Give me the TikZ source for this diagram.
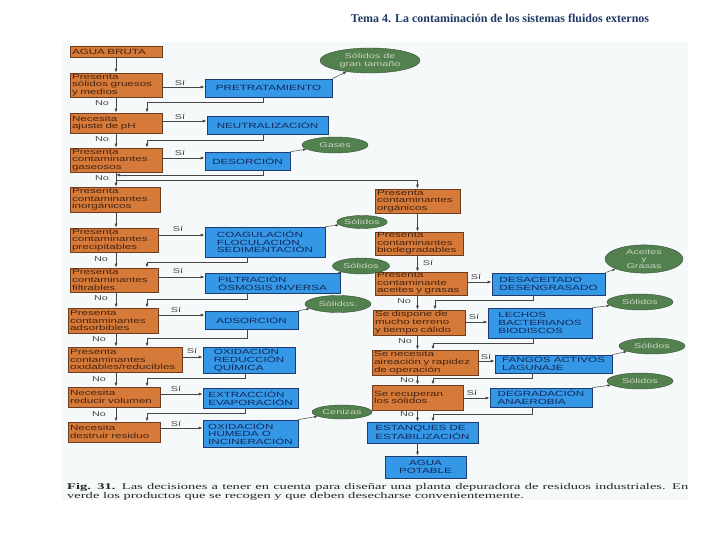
\documentclass[tikz,border=0pt]{standalone}
\usepackage{fontspec}
\setmainfont{Liberation Serif}
\newfontfamily\boxfont[FakeStretch=1.55]{Liberation Sans}
\newfontfamily\capfont[FakeStretch=1.65]{Liberation Serif}
\usetikzlibrary{shapes.geometric,arrows.meta}

\definecolor{boxorange}{RGB}{214,122,58}
\definecolor{orangeline}{RGB}{110,60,30}
\definecolor{orangetext}{RGB}{70,35,15}
\definecolor{boxblue}{RGB}{52,152,230}
\definecolor{blueline}{RGB}{30,60,110}
\definecolor{bluetext}{RGB}{20,40,90}
\definecolor{ellgreen}{RGB}{82,128,78}
\definecolor{greenline}{RGB}{50,80,50}
\definecolor{greentext}{RGB}{205,212,195}
\definecolor{flowgray}{RGB}{70,70,70}
\definecolor{scanbg}{RGB}{246,249,250}
\definecolor{titleblue}{RGB}{31,56,100}

\begin{document}
\begin{tikzpicture}[x=1pt,y=-1pt,
        chartbox/.style={draw, line width=0.7pt, inner ysep=0pt,
            font=\boxfont\fontsize{7.5}{7.6}\selectfont},
        orangebox/.style={chartbox, fill=boxorange, draw=orangeline,
            text=orangetext, inner xsep=2pt, align=left},
        bluebox/.style={chartbox, fill=boxblue, draw=blueline,
            text=bluetext, inner xsep=5pt, align=left},
        owh/.style 2 args={text width=#1, minimum height=#2},
        bwh/.style 2 args={minimum width=#1, minimum height=#2},
        product/.style={ellipse, draw=greenline, fill=ellgreen,
            text=greentext, inner sep=0pt, align=center,
            font=\boxfont\fontsize{7}{7.4}\selectfont},
        flowline/.style={draw=flowgray, line width=0.7pt,
            -{Latex[length=4pt,width=3pt]}},
        waste/.style={draw=flowgray, line width=0.5pt,
            -{Latex[length=3.5pt,width=2.5pt]}},
        answer/.style={font=\boxfont\fontsize{7}{7}\selectfont,
            text=flowgray, inner sep=0pt}]
    \useasboundingbox (0,0) rectangle (720,540);
    \fill[scanbg] (62,42) rectangle (688,500);

    \node[font=\bfseries\fontsize{12}{14}\selectfont, text=titleblue]
        (title) at (500,18) {Tema 4. La contaminación de los sistemas fluidos externos};

    % left column: questions
    \node[orangebox, owh={88pt}{11pt}] (agua) at (116,51.5) {AGUA BRUTA};
    \node[orangebox, owh={88pt}{24pt}] (gruesos) at (116,85) {Presenta\\sólidos gruesos\\y medios};
    \node[orangebox, owh={88pt}{20pt}] (ph) at (116,123) {Necesita\\ajuste de pH};
    \node[orangebox, owh={88pt}{24pt}] (gaseosos) at (116,160) {Presenta\\contaminantes\\gaseosos};
    \node[orangebox, owh={86pt}{25pt}] (inorganicos) at (115,199.5) {Presenta\\contaminantes\\inorgánicos};
    \node[orangebox, owh={84pt}{24pt}] (precipitables) at (114,240) {Presenta\\contaminantes\\precipitables};
    \node[orangebox, owh={84pt}{24pt}] (filtrables) at (114,280) {Presenta\\contaminantes\\filtrables};
    \node[orangebox, owh={86pt}{25pt}] (adsorbibles) at (113,320.5) {Presenta\\contaminantes\\adsorbibles};
    \node[orangebox, owh={110pt}{25pt}] (oxidables) at (125,359.5) {Presenta\\contaminantes\\oxidables/reducibles};
    \node[orangebox, owh={88pt}{20pt}] (volumen) at (114,397) {Necesita\\reducir volumen};
    \node[orangebox, owh={88pt}{20pt}] (destruir) at (114,432) {Necesita\\destruir residuo};

    % left column: treatments
    \node[bluebox, bwh={127pt}{18pt}] (pretrat) at (268.5,88) {PRETRATAMIENTO};
    \node[bluebox, bwh={121pt}{18pt}] (neutral) at (267.5,125) {NEUTRALIZACIÓN};
    \node[bluebox, bwh={85pt}{18pt}] (desorcion) at (247.5,161) {DESORCIÓN};
    \node[bluebox, bwh={120pt}{30pt}] (coagul) at (265,242) {COAGULACIÓN\\FLOCULACIÓN\\SEDIMENTACIÓN};
    \node[bluebox, bwh={135pt}{20pt}] (filtrac) at (272.5,283) {FILTRACIÓN\\ÓSMOSIS INVERSA};
    \node[bluebox, bwh={93pt}{18pt}] (adsorc) at (251.5,320) {ADSORCIÓN};
    \node[bluebox, bwh={92pt}{26pt}] (oxired) at (249,360) {OXIDACIÓN\\REDUCCIÓN\\QUÍMICA};
    \node[bluebox, bwh={95pt}{20pt}] (extrac) at (250.5,398) {EXTRACCIÓN\\EVAPORACIÓN};
    \node[bluebox, bwh={95pt}{27pt}] (incin) at (250.5,433.5) {OXIDACIÓN\\HÚMEDA O\\INCINERACIÓN};

    % right column
    \node[orangebox, owh={81pt}{24pt}] (organicos) at (417.5,201) {Presenta\\contaminantes\\orgánicos};
    \node[orangebox, owh={84pt}{23pt}] (biodegr) at (419,243.5) {Presenta\\contaminantes\\biodegradables};
    \node[orangebox, owh={88pt}{23pt}] (aceites) at (421,283.5) {Presenta\\contaminante\\aceites y grasas};
    \node[orangebox, owh={88pt}{25pt}] (terreno) at (419,322.5) {Se dispone de\\mucho terreno\\y tiempo cálido};
    \node[orangebox, owh={102pt}{25pt}] (aireacion) at (425,362.5) {Se necesita\\aireación y rapidez\\de operación};
    \node[orangebox, owh={87pt}{25pt}] (recuperan) at (417.5,397.5) {Se recuperan\\los sólidos};
    \node[bluebox, bwh={111pt}{21pt}] (estanques) at (422.5,432.5) {ESTANQUES DE\\ESTABILIZACIÓN};
    \node[bluebox, bwh={81pt}{22pt}, align=center] (potable) at (425.5,467) {AGUA\\POTABLE};

    \node[bluebox, bwh={113pt}{22pt}] (desaceit) at (548.5,284) {DESACEITADO\\DESENGRASADO};
    \node[bluebox, bwh={104pt}{30pt}] (lechos) at (540,323) {LECHOS\\BACTERIANOS\\BIODISCOS};
    \node[bluebox, bwh={117pt}{18pt}] (fangos) at (553.5,364) {FANGOS ACTIVOS\\LAGUNAJE};
    \node[bluebox, bwh={102pt}{19pt}] (degrad) at (541,397.5) {DEGRADACIÓN\\ANAEROBIA};

    % products to be removed
    \node[product, minimum width=100pt, minimum height=25pt] (egran) at (370,60.5) {Sólidos de\\gran tamaño};
    \node[product, minimum width=66pt, minimum height=16pt] (egases) at (335,145) {Gases};
    \node[product, minimum width=46pt, minimum height=13pt] (esol1) at (362,222) {Sólidos};
    \node[product, minimum width=57pt, minimum height=16pt] (esol2) at (361,266) {Sólidos};
    \node[product, minimum width=66pt, minimum height=17pt] (esol3) at (338,304) {Sólidos.};
    \node[product, minimum width=60pt, minimum height=14pt] (ecen) at (342,412) {Cenizas};
    \node[product, minimum width=78pt, minimum height=28pt] (eaceites) at (644,259) {Aceites\\y\\Grasas};
    \node[product, minimum width=66pt, minimum height=16pt] (esol4) at (640,302) {Sólidos};
    \node[product, minimum width=66pt, minimum height=16pt] (esol5) at (652,346) {Sólidos};
    \node[product, minimum width=66pt, minimum height=16pt] (esol6) at (640,381) {Sólidos};

    % "No" chain, left
    \draw[flowline] (agua.south) -- (gruesos.north);
    \draw[flowline] (gruesos.south) -- (ph.north);
    \draw[flowline] (ph.south) -- (gaseosos.north);
    \draw[flowline] (gaseosos.south) -- (inorganicos.north -| gaseosos.south);
    \draw[flowline] (inorganicos.south -| gaseosos.south) -- (precipitables.north -| gaseosos.south);
    \draw[flowline] (precipitables.south -| gaseosos.south) -- (filtrables.north -| gaseosos.south);
    \draw[flowline] (filtrables.south -| gaseosos.south) -- (adsorbibles.north -| gaseosos.south);
    \draw[flowline] (adsorbibles.south -| gaseosos.south) -- (oxidables.north -| gaseosos.south);
    \draw[flowline] (oxidables.south -| gaseosos.south) -- (volumen.north -| gaseosos.south);
    \draw[flowline] (volumen.south -| gaseosos.south) -- (destruir.north -| gaseosos.south);
    \node[answer] (no1) at (102,103) {No};
    \node[answer] (no2) at (102,139) {No};
    \node[answer] (no3) at (102,178) {No};
    \node[answer] (no4) at (101,259) {No};
    \node[answer] (no5) at (101,298) {No};
    \node[answer] (no6) at (99,339) {No};
    \node[answer] (no7) at (99,379) {No};
    \node[answer] (no8) at (99,414) {No};

    % "Si" branches, left
    \draw[flowline] (gruesos.east |- 0,87) -- (pretrat.west |- 0,87);
    \draw[flowline] (ph.east |- 0,121) -- (neutral.west |- 0,121);
    \draw[flowline] (gaseosos.east |- 0,158) -- (desorcion.west |- 0,158);
    \draw[flowline] (precipitables.east |- 0,235) -- (coagul.west |- 0,235);
    \draw[flowline] (filtrables.east |- 0,277) -- (filtrac.west |- 0,277);
    \draw[flowline] (adsorbibles.east |- 0,315) -- (adsorc.west |- 0,315);
    \draw[flowline] (oxidables.east |- 0,357) -- (oxired.west |- 0,357);
    \draw[flowline] (volumen.east |- 0,394) -- (extrac.west |- 0,394);
    \draw[flowline] (destruir.east |- 0,428) -- (incin.west |- 0,428);
    \node[answer] (si1) at (180,83) {Sí};
    \node[answer] (si2) at (180,117) {Sí};
    \node[answer] (si3) at (180,153) {Sí};
    \node[answer] (si4) at (178,229) {Sí};
    \node[answer] (si5) at (178,271) {Sí};
    \node[answer] (si6) at (176,310) {Sí};
    \node[answer] (si7) at (192,351) {Sí};
    \node[answer] (si8) at (176,389) {Sí};
    \node[answer] (si9) at (176,424) {Sí};

    % back to the main line
    \draw[flowline] (pretrat.south -| 263,0) |- (147,102) -- (ph.north -| 147,0);
    \draw[flowline] (neutral.south -| 263,0) |- (147,140) -- (gaseosos.north -| 147,0);
    \draw[flowline] (desorcion.south -| 263,0) |- (gaseosos.south |- 0,175);
    \draw[flowline] (gaseosos.south |- 0,180) -| (organicos.north);
    \draw[flowline] (coagul.south -| 247,0) |- (147,262) -- (filtrables.north -| 147,0);
    \draw[flowline] (filtrac.south -| 247,0) |- (147,299) -- (adsorbibles.north -| 147,0);
    \draw[flowline] (adsorc.south -| 247,0) |- (147,338) -- (oxidables.north -| 147,0);
    \draw[flowline] (oxired.south -| 245,0) |- (147,378) -- (volumen.north -| 147,0);
    \draw[flowline] (extrac.south -| 245,0) |- (147,413) -- (destruir.north -| 147,0);

    % right column chain
    \draw[flowline] (organicos.south) -- (biodegr.north -| organicos.south);
    \draw[flowline] (biodegr.south -| organicos.south) -- (aceites.north -| organicos.south);
    \draw[flowline] (aceites.south -| organicos.south) -- (terreno.north -| organicos.south);
    \draw[flowline] (terreno.south -| organicos.south) -- (aireacion.north -| organicos.south);
    \draw[flowline] (aireacion.south -| organicos.south) -- (recuperan.north -| organicos.south);
    \draw[flowline] (recuperan.south -| organicos.south) -- (estanques.north -| organicos.south);
    \draw[flowline] (estanques.south -| organicos.south) -- (potable.north -| organicos.south);
    \node[answer] (si10) at (428,263) {Sí};
    \node[answer] (no9) at (404,301) {No};
    \node[answer] (no10) at (405,341) {No};
    \node[answer] (no11) at (407,380) {No};
    \node[answer] (no12) at (407,414) {No};

    \draw[flowline] (aceites.east |- 0,282) -- (desaceit.west |- 0,282);
    \draw[flowline] (terreno.east |- 0,322) -- (lechos.west |- 0,322);
    \draw[flowline] (aireacion.east |- 0,361) -- (fangos.west |- 0,361);
    \draw[flowline] (recuperan.east |- 0,398) -- (degrad.west |- 0,398);
    \node[answer] (si11) at (476,277) {Sí};
    \node[answer] (si12) at (474,317) {Sí};
    \node[answer] (si13) at (486,357) {Sí};
    \node[answer] (si14) at (472,393) {Sí};

    \draw[flowline] (desaceit.south -| 533,0) |- (435,300) -- (terreno.north -| 435,0);
    \draw[flowline] (lechos.south -| 533,0) |- (433,343) -- (aireacion.north -| 433,0);
    \draw[flowline] (fangos.south -| 532,0) |- (433,378) -- (recuperan.north -| 433,0);
    \draw[flowline] (degrad.south -| 532,0) |- (433,414) -- (estanques.north -| 433,0);

    % waste products
    \draw[waste] (pretrat.north east) -- (egran);
    \draw[waste] (desorcion.north east) -- (egases);
    \draw[waste] (coagul.north east) -- (esol1);
    \draw[waste] (filtrac.north east) -- (esol2);
    \draw[waste] (adsorc.north east) -- (esol3);
    \draw[waste] (incin.north east) -- (ecen);
    \draw[waste] (desaceit.north east) -- (eaceites);
    \draw[waste] (lechos.north east) -- (esol4);
    \draw[waste] (fangos.north east) -- (esol5);
    \draw[waste] (degrad.north east) -- (esol6);

    % caption
    \node[anchor=north west, inner sep=0pt, align=left, text=black!85,
        font=\capfont\fontsize{8.8}{8}\selectfont] (caption) at (67,483)
        {\makebox[621pt][s]{\textbf{Fig. 31.} Las decisiones a tener en cuenta para diseñar una planta depuradora de residuos industriales. En}\\
         verde los productos que se recogen y que deben desecharse convenientemente.};
\end{tikzpicture}
\end{document}
